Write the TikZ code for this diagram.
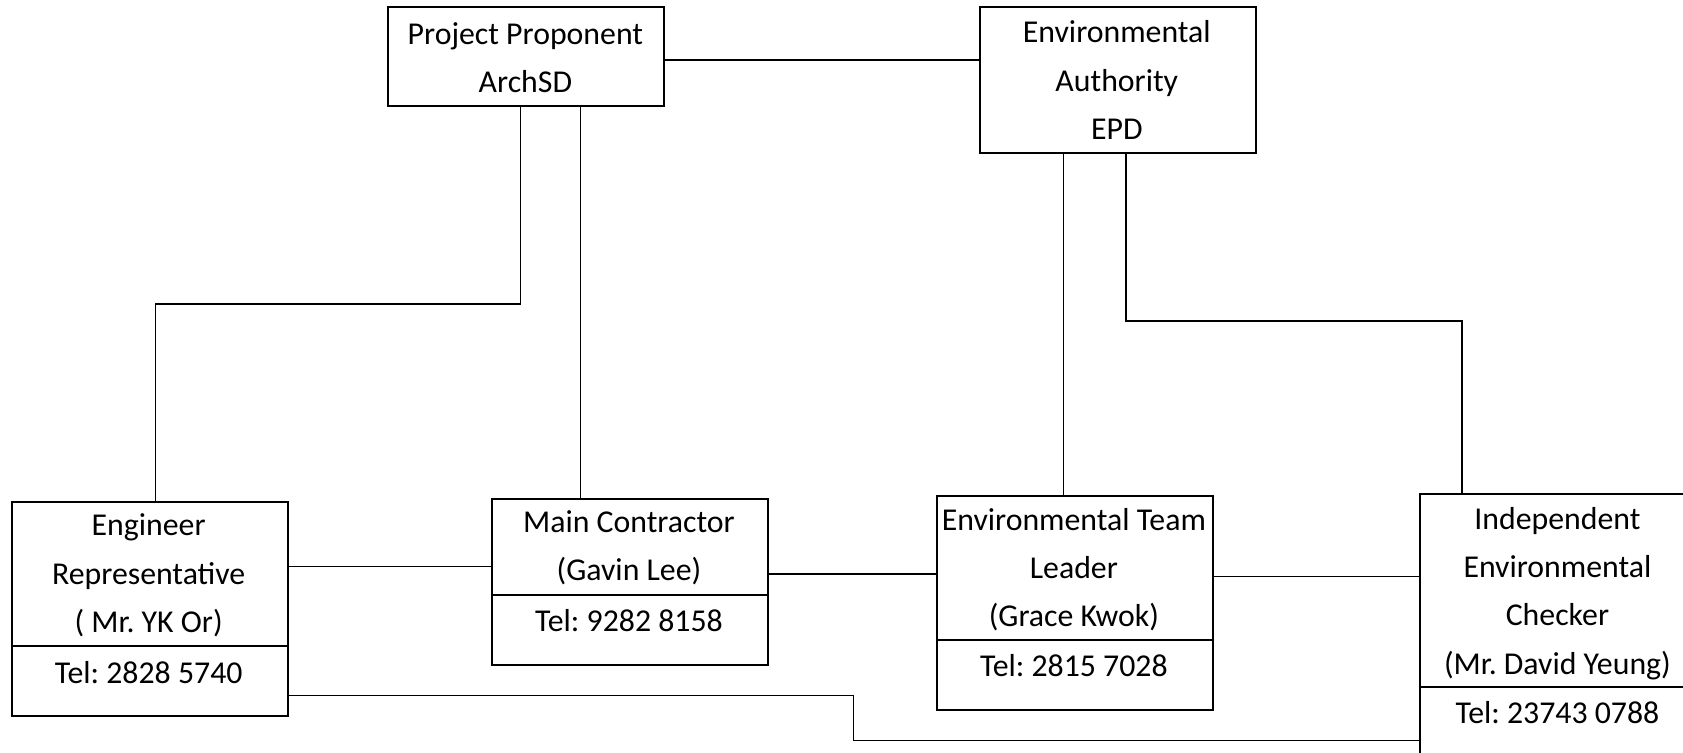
\documentclass[tikz,border=0pt]{standalone}
\usepackage{fontspec}
\setmainfont{Carlito}
\usetikzlibrary{positioning}
\frenchspacing

\begin{document}
\begin{tikzpicture}[x=0.5367pt,y=-0.5367pt,
    box/.style={draw,line width=1pt,rectangle,inner sep=0pt,anchor=north west,minimum width=137.93pt},
    txt/.style={inner sep=0pt,align=center,font=\fontsize{15.9}{24.1}\selectfont},
    link/.style={line width=0.75pt}]
        \useasboundingbox (0,0) rectangle (1568,701.5);
        % boxes
        \node[box,minimum height=49.38pt] (pp) at (361,6) {};
        \node[box,minimum height=72.99pt] (ea) at (912,6) {};
        \node[box,minimum height=106.8pt] (eng) at (10,467) {};
        \node[box,minimum width=138.47pt,minimum height=83.19pt] (mc) at (457,464) {};
        \node[box,minimum height=107.34pt] (etl) at (872,461) {};
        \node[box,minimum width=214.7pt,minimum height=214.7pt] (iec) at (1322,459) {};
        \draw[line width=1pt] ([yshift=-72.45pt]eng.north west) -- ([yshift=-72.45pt]eng.north east);
        \draw[line width=1pt] ([yshift=-48.3pt]mc.north west) -- ([yshift=-48.3pt]mc.north east);
        \draw[line width=1pt] ([yshift=-72.45pt]etl.north west) -- ([yshift=-72.45pt]etl.north east);
        \draw[line width=1pt] ([yshift=-97.14pt]iec.north west) -- ([yshift=-97.14pt]iec.north east);
        % texts
        \node[txt] (pp-name) at (489.5,54) {Project Proponent\\ArchSD};
        \node[txt] (ea-name) at (1040.5,74.5) {Environmental\\Authority\\EPD};
        \node[txt] (eng-name) at (138.5,536) {Engineer\\Representative\\( Mr. YK Or)};
        \node[txt] (eng-tel) at (138.5,627) {Tel: 2828 5740};
        \node[txt] (mc-name) at (586,510.5) {Main Contractor\\(Gavin Lee)};
        \node[txt] (mc-tel) at (586,578) {Tel: 9282 8158};
        \node[txt] (etl-name) at (1000.5,531) {Environmental Team\\Leader\\(Grace Kwok)};
        \node[txt] (etl-tel) at (1000.5,620) {Tel: 2815 7028};
        \node[txt] (iec-name) at (1451,553) {Independent\\Environmental\\Checker\\(Mr. David Yeung)};
        \node[txt] (iec-tel) at (1451,664) {Tel: 23743 0788};
        % links
        \coordinate (bend-eng) at (145,283);
        \coordinate (bend-iec) at (1362,299);
        \coordinate (bend-low) at (795,690);
        \draw[link] ([yshift=-1.61pt]pp.east) -- ([yshift=-1.61pt]pp.east -| ea.west);
        \draw[link] ([xshift=-2.95pt]pp.south) |- (bend-eng) -- (bend-eng |- eng.north);
        \draw[link] ([xshift=27.1pt]pp.south) -- ([xshift=27.1pt]pp.south |- mc.north);
        \draw[link] ([xshift=-27.1pt]ea.south) -- ([xshift=-27.1pt]ea.south |- etl.north);
        \draw[link] ([xshift=4.03pt]ea.south) |- (bend-iec) -- (bend-iec |- iec.north);
        \draw[link] ([yshift=-32.74pt]eng.north east) -- ([yshift=-32.74pt]eng.north east -| mc.west);
        \draw[link] ([yshift=-38.1pt]mc.north east) -- ([yshift=-38.1pt]mc.north east -| etl.west);
        \draw[link] ([yshift=-40.79pt]etl.north east) -- ([yshift=-40.79pt]etl.north east -| iec.west);
        \draw[link] ([yshift=-97.14pt]eng.north east) -| (bend-low) -- (bend-low -| iec.west);
      \end{tikzpicture}
\end{document}
